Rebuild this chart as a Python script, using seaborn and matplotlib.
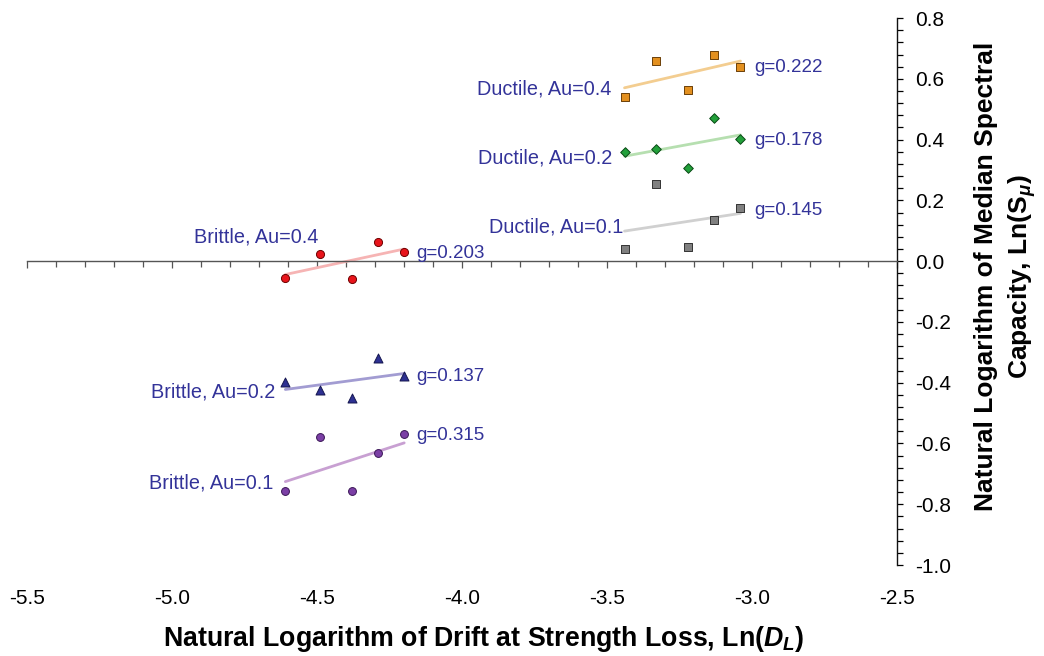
import numpy as np
import matplotlib
matplotlib.use("Agg")
import matplotlib.pyplot as plt
import seaborn as sns
from matplotlib.ticker import AutoMinorLocator, FormatStrFormatter, NullLocator

# ln(drift at strength loss) for each specimen group
ductile_x = [-3.44, -3.33, -3.22, -3.13, -3.04]
brittle_x = [-4.61, -4.49, -4.38, -4.29, -4.20]

# ln(median spectral capacity)
ductile_04 = [0.541, 0.657, 0.563, 0.680, 0.640]
ductile_02 = [0.360, 0.370, 0.307, 0.471, 0.401]
ductile_01 = [0.039, 0.254, 0.045, 0.134, 0.174]
brittle_04 = [-0.055, 0.022, -0.059, 0.062, 0.031]
brittle_02 = [-0.397, -0.425, -0.452, -0.320, -0.379]
brittle_01 = [-0.757, -0.578, -0.757, -0.632, -0.568]

series_names = ["Ductile, Au=0.4", "Ductile, Au=0.2", "Ductile, Au=0.1",
                "Brittle, Au=0.4", "Brittle, Au=0.2", "Brittle, Au=0.1"]
g_labels = ["g=0.222", "g=0.178", "g=0.145", "g=0.203", "g=0.137", "g=0.315"]

x_ticks = [-5.5, -5.0, -4.5, -4.0, -3.5, -3.0, -2.5]
y_ticks = [-1.0, -0.8, -0.6, -0.4, -0.2, 0.0, 0.2, 0.4, 0.6, 0.8]

# style per series: marker, size, face, edge, fit line colour
styles = [
    ("s", 28, "#e3901f", "#6b3f08", "#f3cd90"),
    ("D", 24, "#22a03a", "#0a4a16", "#b6dfb0"),
    ("s", 28, "#808080", "#333333", "#d0d0d0"),
    ("o", 34, "#e8141b", "#6e0000", "#f6b4b4"),
    ("^", 42, "#2e3192", "#15164f", "#a29cd2"),
    ("o", 32, "#7b3fa5", "#3a1656", "#c8a0d2"),
]
# text anchor positions (data coords): series label (right aligned), g label (left aligned)
name_pos = [(-3.484, 0.566), (-3.484, 0.338), (-3.443, 0.113),
            (-4.497, 0.080), (-4.646, -0.430), (-4.651, -0.730)]
g_pos = [(-2.991, 0.638), (-2.991, 0.398), (-2.991, 0.168),
         (-4.157, 0.025), (-4.157, -0.381), (-4.157, -0.573)]

sns.set_style("white")
plt.rcParams["font.family"] = ["Liberation Sans", "DejaVu Sans"]
plt.rcParams["text.color"] = "black"
plt.rcParams["axes.labelcolor"] = "black"
plt.rcParams["xtick.color"] = "black"
plt.rcParams["ytick.color"] = "black"
plt.rcParams["axes.unicode_minus"] = False
plt.rcParams["mathtext.fontset"] = "custom"
plt.rcParams["mathtext.rm"] = "Liberation Sans:bold"
plt.rcParams["mathtext.bf"] = "Liberation Sans:bold"
plt.rcParams["mathtext.it"] = "Liberation Sans:bold:italic"

fig = plt.figure(figsize=(10.44, 6.56), dpi=100)
ax = fig.add_axes([0.0262, 0.1387, 0.8330, 0.8338])

xs_all = [ductile_x, ductile_x, ductile_x, brittle_x, brittle_x, brittle_x]
ys_all = [ductile_04, ductile_02, ductile_01, brittle_04, brittle_02, brittle_01]
text_color = "#333399"

for xs, ys, name, g, (mk, sz, fc, ec, lc), npos, gpos in zip(
        xs_all, ys_all, series_names, g_labels, styles, name_pos, g_pos):
    sns.regplot(x=np.array(xs), y=np.array(ys), ax=ax, scatter=False, ci=None,
                truncate=True, line_kws=dict(color=lc, lw=2.0, zorder=2))
    sns.scatterplot(x=xs, y=ys, ax=ax, marker=mk, s=sz, color=fc,
                    edgecolor=ec, linewidth=0.7, zorder=3, legend=False)
    ax.text(npos[0], npos[1], name, ha="right", va="center", fontsize=14.3, color=text_color)
    ax.text(gpos[0], gpos[1], g, ha="left", va="center", fontsize=13.5, color=text_color)

ax.set_xlim(-5.5, -2.5)
ax.set_ylim(-1.0, 0.8)

# axes: x-axis line crosses at y=0, y-axis on the right
ax.spines["left"].set_visible(False)
ax.spines["top"].set_visible(False)
ax.spines["bottom"].set_position(("data", 0))
ax.spines["bottom"].set_color("#555555")
ax.spines["bottom"].set_linewidth(1.0)
ax.spines["right"].set_color("#111111")
ax.spines["right"].set_linewidth(1.0)

ax.set_xticks(x_ticks)
ax.xaxis.set_minor_locator(AutoMinorLocator(5))
ax.tick_params(axis="x", which="major", direction="out", length=5, width=0.9,
               color="#555555", bottom=True, labelbottom=False)
ax.tick_params(axis="x", which="minor", direction="out", length=4, width=0.9,
               color="#555555", bottom=True)

ax.yaxis.tick_right()
ax.yaxis.set_label_position("right")
ax.set_yticks(y_ticks)
ax.yaxis.set_minor_locator(AutoMinorLocator(5))
ax.yaxis.set_major_formatter(FormatStrFormatter("%.1f"))
ax.tick_params(axis="y", which="both", direction="out", length=4, width=0.9,
               right=True, left=False, labelsize=15, pad=9)
ax.set_ylabel("Natural Logarithm of Median Spectral\nCapacity, Ln($\\mathrm{S}_{\\mu}$)",
              fontsize=19, fontweight="bold", linespacing=1.4)
ax.yaxis.set_label_coords(1.088, 0.528)
ax.set_xlabel("Natural Logarithm of Drift at Strength Loss, Ln($D_L$)",
              fontsize=19.3, fontweight="bold")
ax.xaxis.set_label_coords(0.525, -0.107)

# tick labels for x sit at the bottom of the plot area
sec = ax.secondary_xaxis("bottom")
sec.spines["bottom"].set_visible(False)
sec.set_xticks(x_ticks)
sec.xaxis.set_minor_locator(NullLocator())
sec.xaxis.set_major_formatter(FormatStrFormatter("%.1f"))
sec.tick_params(axis="x", which="both", length=0, labelsize=15, pad=17)

fig.savefig("out.png", dpi=100)
